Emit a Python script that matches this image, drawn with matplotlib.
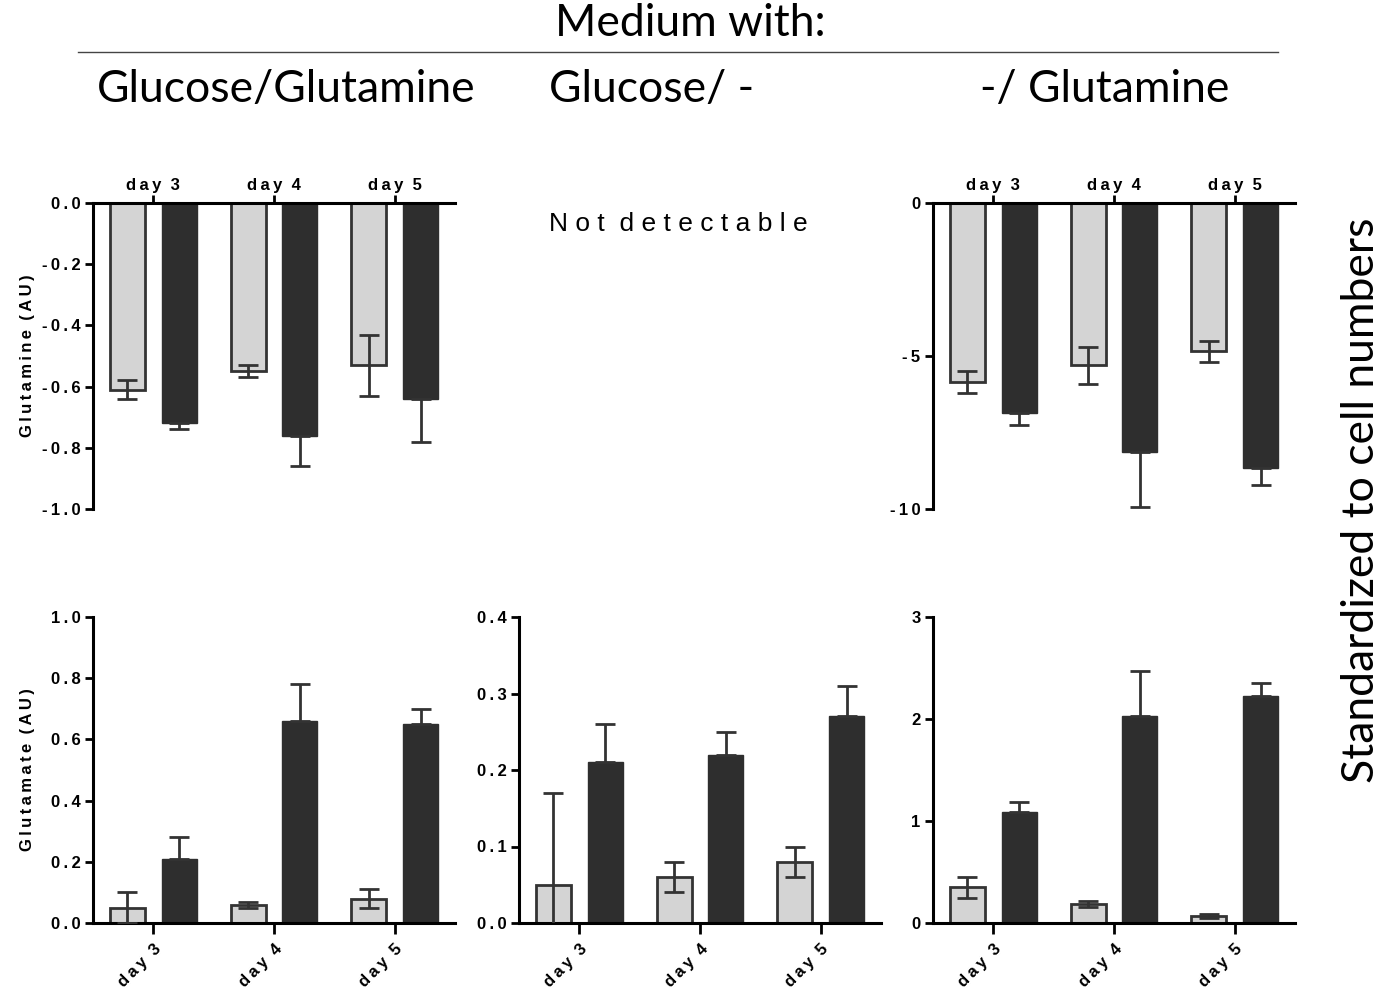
import matplotlib
matplotlib.use('Agg')
from matplotlib import pyplot as plt
import numpy as np

days = ["day 3", "day 4", "day 5"]

# glutamine, top row (Glc/Gln and -/Gln)
gln_glcgln_light = [-0.61, -0.55, -0.53]
gln_glcgln_light_err = [0.03, 0.02, 0.10]
gln_glcgln_dark = [-0.72, -0.76, -0.64]
gln_glcgln_dark_err = [0.02, 0.10, 0.14]

gln_gln_light = [-5.85, -5.30, -4.85]
gln_gln_light_err = [0.35, 0.60, 0.35]
gln_gln_dark = [-6.85, -8.15, -8.65]
gln_gln_dark_err = [0.40, 1.80, 0.55]

# glutamate, bottom row
glu_glcgln_light = [0.05, 0.06, 0.08]
glu_glcgln_light_err = [0.05, 0.01, 0.03]
glu_glcgln_dark = [0.21, 0.66, 0.65]
glu_glcgln_dark_err = [0.07, 0.12, 0.05]

glu_glc_light = [0.05, 0.06, 0.08]
glu_glc_light_err = [0.12, 0.02, 0.02]
glu_glc_dark = [0.21, 0.22, 0.27]
glu_glc_dark_err = [0.05, 0.03, 0.04]

glu_gln_light = [0.35, 0.19, 0.07]
glu_gln_light_err = [0.10, 0.03, 0.02]
glu_gln_dark = [1.09, 2.03, 2.23]
glu_gln_dark_err = [0.10, 0.44, 0.12]

LIGHT = '#d4d4d4'
DARK = '#2e2e2e'
EDGE = '#333333'
FONT = ['Liberation Sans', 'DejaVu Sans']
TITLE_FONT = ['Lato', 'DejaVu Sans']


def spaced(s):
    # letter-spaced look of the original (prism style)
    return "  ".join("\u2009".join(word) for word in s.split(" "))


W, H = 1387, 993
fig = plt.figure(figsize=(W / 100, H / 100), dpi=100)


def panel(left, bottom, light, light_err, dark, dark_err, ylim, yticks, ylabels, top=False):
    ax = fig.add_axes([left / W, 1 - bottom / H, 362 / W, 306 / H])
    x = np.arange(len(days))
    off, w = 0.215, 0.29
    ax.bar(x - off, light, w, color=LIGHT, edgecolor=EDGE, linewidth=2.0, zorder=2)
    ax.bar(x + off, dark, w, color=DARK, edgecolor=DARK, linewidth=1, zorder=2)
    ax.errorbar(x - off, light, yerr=light_err, fmt='none', ecolor=EDGE,
                elinewidth=2, capsize=7, capthick=2, zorder=3)
    zeros = [0] * len(dark_err)
    derr = [dark_err, zeros] if top else [zeros, dark_err]
    ax.errorbar(x + off, dark, yerr=derr, fmt='none', ecolor=EDGE,
                elinewidth=2, capsize=7, capthick=2, zorder=3)
    ax.set_xlim(-0.5, 2.5)
    ax.set_ylim(*ylim)
    ax.set_yticks(yticks)
    ax.set_yticklabels([spaced(t) for t in ylabels], fontfamily=FONT,
                       fontweight='bold', fontsize=12)
    ax.set_xticks(x)
    ax.spines['right'].set_visible(False)
    ax.spines['left'].set_linewidth(2.2)
    if top:
        ax.spines['bottom'].set_visible(False)
        ax.spines['top'].set_linewidth(2.2)
        ax.xaxis.tick_top()
        ax.set_xticklabels([spaced(d) for d in days],
                           fontfamily=FONT, fontweight='bold', fontsize=12)
        ax.tick_params(axis='x', direction='out', length=6, width=2, pad=1)
    else:
        ax.spines['top'].set_visible(False)
        ax.spines['bottom'].set_linewidth(2.2)
        ax.set_xticklabels([spaced(d) for d in days],
                           fontfamily=FONT, fontweight='bold', fontsize=12,
                           rotation=45, ha='right', rotation_mode='anchor')
        ax.tick_params(axis='x', direction='out', length=8, width=2, pad=5)
    ax.tick_params(axis='y', direction='out', length=6, width=2, pad=3)
    return ax


ax1 = panel(93, 509, gln_glcgln_light, gln_glcgln_light_err, gln_glcgln_dark, gln_glcgln_dark_err,
            (-1.0, 0.0), [0, -0.2, -0.4, -0.6, -0.8, -1.0],
            ["0.0", "-0.2", "-0.4", "-0.6", "-0.8", "-1.0"], top=True)
ax1.set_ylabel(spaced("Glutamine (AU)"), fontfamily=FONT,
               fontweight='bold', fontsize=12, labelpad=5)

ax3 = panel(933, 509, gln_gln_light, gln_gln_light_err, gln_gln_dark, gln_gln_dark_err,
            (-10, 0), [0, -5, -10], ["0", "-5", "-10"], top=True)

ax4 = panel(93, 923, glu_glcgln_light, glu_glcgln_light_err, glu_glcgln_dark, glu_glcgln_dark_err,
            (0, 1.0), [0, 0.2, 0.4, 0.6, 0.8, 1.0],
            ["0.0", "0.2", "0.4", "0.6", "0.8", "1.0"])
ax4.set_ylabel(spaced("Glutamate (AU)"), fontfamily=FONT,
               fontweight='bold', fontsize=12, labelpad=11)

ax5 = panel(519, 923, glu_glc_light, glu_glc_light_err, glu_glc_dark, glu_glc_dark_err,
            (0, 0.4), [0, 0.1, 0.2, 0.3, 0.4], ["0.0", "0.1", "0.2", "0.3", "0.4"])

ax6 = panel(933, 923, glu_gln_light, glu_gln_light_err, glu_gln_dark, glu_gln_dark_err,
            (0, 3), [0, 1, 2, 3], ["0", "1", "2", "3"])

# headers
fig.text(690 / W, 1 - 24 / H, "Medium with:", ha='center', va='center',
         fontsize=32, fontfamily=TITLE_FONT)
fig.add_artist(plt.Line2D([78 / W, 1278 / W], [1 - 52 / H, 1 - 52 / H],
                          color='#444444', linewidth=1))
fig.text(286 / W, 1 - 90 / H, "Glucose/Glutamine", ha='center', va='center',
         fontsize=32, fontfamily=TITLE_FONT)
fig.text(652 / W, 1 - 90 / H, "Glucose/ -", ha='center', va='center',
         fontsize=32, fontfamily=TITLE_FONT)
fig.text(1105 / W, 1 - 90 / H, "-/ Glutamine", ha='center', va='center',
         fontsize=32, fontfamily=TITLE_FONT)
fig.text(678 / W, 1 - 224 / H, "N o t  d e t e c t a b l e", ha='center', va='center',
         fontsize=19, fontfamily=FONT)
fig.text(1362 / W, 1 - 500 / H, "Standardized to cell numbers", ha='center', va='center',
         rotation=90, fontsize=32, fontfamily=TITLE_FONT)

fig.savefig('out.png', dpi=100, facecolor='white')
